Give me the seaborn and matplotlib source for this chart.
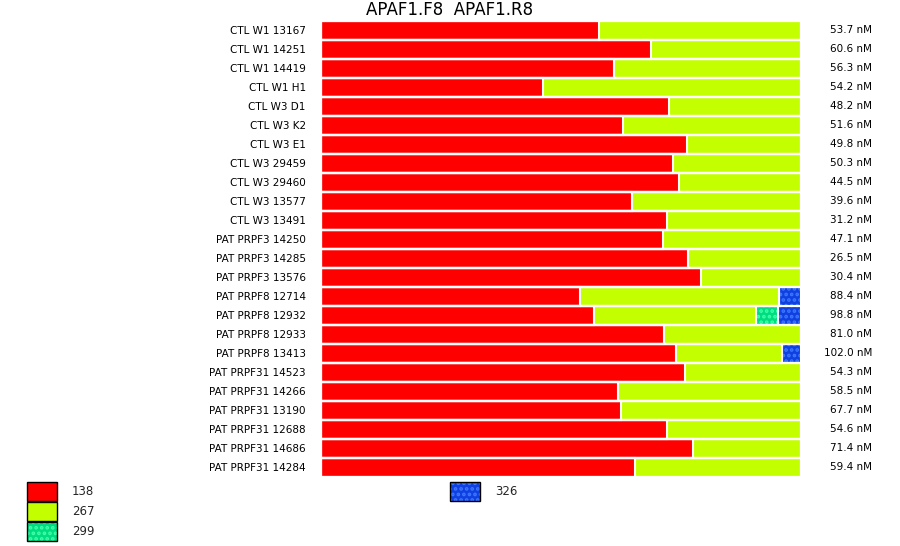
"""Stacked allele-fraction bars for the APAF1.F8 / APAF1.R8 amplicon."""

import matplotlib
matplotlib.use("Agg")
import matplotlib.pyplot as plt
import matplotlib.transforms as mtransforms
from matplotlib.patches import Patch
import pandas as pd
import seaborn as sns


SAMPLES = [
    "CTL W1 13167", "CTL W1 14251", "CTL W1 14419", "CTL W1 H1",
    "CTL W3 D1", "CTL W3 K2", "CTL W3 E1", "CTL W3 29459",
    "CTL W3 29460", "CTL W3 13577", "CTL W3 13491", "PAT PRPF3 14250",
    "PAT PRPF3 14285", "PAT PRPF3 13576", "PAT PRPF8 12714", "PAT PRPF8 12932",
    "PAT PRPF8 12933", "PAT PRPF8 13413", "PAT PRPF31 14523", "PAT PRPF31 14266",
    "PAT PRPF31 13190", "PAT PRPF31 12688", "PAT PRPF31 14686", "PAT PRPF31 14284",
]
CONCENTRATIONS = [
    "53.7 nM", "60.6 nM", "56.3 nM", "54.2 nM", "48.2 nM", "51.6 nM",
    "49.8 nM", "50.3 nM", "44.5 nM", "39.6 nM", "31.2 nM", "47.1 nM",
    "26.5 nM", "30.4 nM", "88.4 nM", "98.8 nM", "81.0 nM", "102.0 nM",
    "54.3 nM", "58.5 nM", "67.7 nM", "54.6 nM", "71.4 nM", "59.4 nM",
]
# percent of reads per fragment size
PCT_138 = [57.9, 68.8, 61.0, 46.3, 72.5, 62.9, 76.3, 73.3, 74.6, 64.8, 72.1, 71.3,
           76.5, 79.2, 54.0, 56.9, 71.5, 74.0, 75.8, 61.9, 62.5, 72.1, 77.5, 65.4]
PCT_267 = [42.1, 31.2, 39.0, 53.7, 27.5, 37.1, 23.7, 26.7, 25.4, 35.2, 27.9, 28.7,
           23.5, 20.8, 41.4, 33.7, 28.5, 22.0, 24.2, 38.1, 37.5, 27.9, 22.5, 34.6]
PCT_299 = [0, 0, 0, 0, 0, 0, 0, 0, 0, 0, 0, 0,
           0, 0, 0, 4.6, 0, 0, 0, 0, 0, 0, 0, 0]
PCT_326 = [0, 0, 0, 0, 0, 0, 0, 0, 0, 0, 0, 0,
           0, 0, 4.6, 4.8, 0, 4.0, 0, 0, 0, 0, 0, 0]

SIZES = ["138", "267", "299", "326"]
FACE = {"138": "#ff0000", "267": "#c4ff00", "299": "#00dc80", "326": "#1040e0"}
HATCH_COLOR = {"299": "#40ffa8", "326": "#3c78ff"}
HATCH = "..."


def main() -> None:
    df = pd.DataFrame({"sample": SAMPLES, "138": PCT_138, "267": PCT_267,
                       "299": PCT_299, "326": PCT_326})
    cum = df[SIZES].cumsum(axis=1)
    cum["sample"] = df["sample"]

    sns.set_theme(style="white")
    plt.rcParams["font.family"] = ["DejaVu Sans"]
    plt.rcParams["hatch.linewidth"] = 1.8

    fig = plt.figure(figsize=(9, 5.46), dpi=100)
    ax = fig.add_axes([321 / 900, 1 - 476.5 / 546, 480 / 900, 456 / 546])

    # filled layers, widest cumulative first so shorter ones sit on top
    for size in reversed(SIZES):
        n_before = len(ax.patches)
        sns.barplot(data=cum, y="sample", x=size, order=SAMPLES, orient="h",
                    color=FACE[size], saturation=1, width=1.0, linewidth=0,
                    errorbar=None, ax=ax)
        if size in HATCH_COLOR:
            for bar in ax.patches[n_before:]:
                bar.set_edgecolor(HATCH_COLOR[size])
                bar.set_linewidth(0)
                bar.set_hatch(HATCH)
    # white outlines give the gaps between segments and rows
    for size in SIZES:
        sns.barplot(data=cum, y="sample", x=size, order=SAMPLES, orient="h",
                    fill=False, color="white", width=1.0, linewidth=1.5,
                    errorbar=None, ax=ax)

    ax.set_xlim(0, 100)
    ax.set_xlabel("")
    ax.set_ylabel("")
    ax.set_xticks([])
    sns.despine(ax=ax, left=True, bottom=True)
    ax.tick_params(axis="y", length=0, pad=11, labelsize=7.5, labelcolor="black")

    trans = mtransforms.blended_transform_factory(ax.transAxes, ax.transData)
    for i, conc in enumerate(CONCENTRATIONS):
        ax.text(1.148, i, conc, transform=trans, ha="right", va="center",
                fontsize=7.5, color="black")

    fig.text(0.5, 1 - 10 / 546, "APAF1.F8  APAF1.R8", ha="center", va="center",
             fontsize=12, color="black")

    def handle(size):
        if size in HATCH_COLOR:
            return (Patch(facecolor=FACE[size], edgecolor=HATCH_COLOR[size],
                          hatch=HATCH, linewidth=0),
                    Patch(fill=False, edgecolor="black", linewidth=1))
        return (Patch(facecolor=FACE[size], edgecolor="black", linewidth=1),)

    common = dict(frameon=False, borderpad=0, borderaxespad=0, fontsize=8.5,
                  handlelength=2.54, handleheight=2.1, labelspacing=0.085,
                  handletextpad=1.27, loc="upper left")
    fig.legend([handle(s) for s in SIZES[:3]], SIZES[:3],
               bbox_to_anchor=(27 / 900, 1 - 482 / 546), **common)
    fig.legend([handle("326")], ["326"],
               bbox_to_anchor=(450 / 900, 1 - 482 / 546), **common)

    fig.savefig("out.png", dpi=100)
    plt.close(fig)


if __name__ == "__main__":
    main()
